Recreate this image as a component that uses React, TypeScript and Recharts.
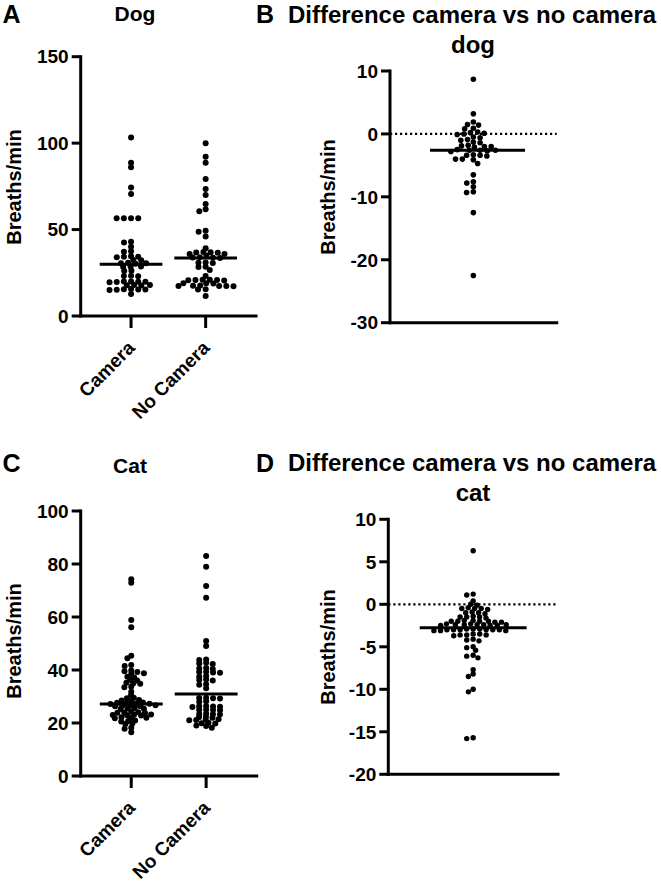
import React from 'react';
import { ScatterChart, Scatter, XAxis, YAxis, ReferenceLine } from 'recharts';

const FONT = '"Liberation Sans", Arial, Helvetica, sans-serif';

const groupCategories = ['Camera', 'No Camera'];

const dogCamera = [103.3, 88.7, 86.0, 74.4, 70.6, 56.5, 56.5, 56.5, 56.5, 43.0, 42.5, 40.1, 37.2, 37.5, 34.3, 34.0, 34.6, 34.3, 32.4, 32.2, 30.5, 30.2, 30.8, 30.5, 28.5, 28.3, 28.7, 26.2, 26.0, 23.1, 23.3, 23.0, 19.8, 19.6, 20.0, 19.8, 19.5, 19.9, 17.9, 17.7, 18.0, 17.8, 15.4, 15.2, 15.5, 15.3, 15.6, 15.1, 12.7];
const dogNoCamera = [99.9, 92.1, 88.7, 79.2, 73.5, 70.0, 64.8, 61.7, 60.6, 49.3, 48.8, 46.0, 39.2, 36.8, 36.9, 37.0, 36.6, 35.9, 35.8, 34.9, 33.9, 34.0, 33.8, 33.6, 30.8, 30.9, 30.6, 28.5, 28.3, 26.6, 23.1, 20.8, 20.9, 20.7, 21.0, 20.6, 20.8, 18.9, 19.0, 18.8, 17.4, 17.3, 17.5, 17.2, 17.6, 17.4, 15.4, 15.5, 11.6];
const dogDifference = [8.7, 3.2, 1.9, 1.4, 1.5, 0.9, 0.8, 0.1, 0.0, 0.2, -0.1, 0.3, -0.5, -0.6, -0.9, -1.0, -1.4, -1.3, -1.9, -2.0, -1.8, -2.1, -2.0, -2.6, -2.5, -2.7, -2.6, -2.8, -2.6, -3.4, -3.3, -3.5, -3.4, -4.0, -4.1, -4.0, -4.7, -6.5, -7.6, -7.8, -8.4, -9.2, -9.3, -12.5, -22.5];
const catCamera = [74.2, 72.9, 58.9, 56.1, 45.4, 44.4, 41.9, 41.5, 39.5, 39.2, 39.8, 38.8, 38.5, 37.5, 37.2, 36.2, 36.0, 35.0, 34.8, 35.2, 33.7, 33.5, 31.8, 30.6, 29.5, 29.3, 28.5, 28.3, 28.7, 27.6, 27.4, 27.5, 27.3, 27.7, 27.2, 26.5, 26.3, 26.6, 26.4, 26.7, 25.5, 25.3, 25.6, 25.4, 24.2, 24.0, 23.8, 24.1, 23.9, 23.0, 22.8, 23.2, 22.9, 23.1, 22.0, 21.8, 22.2, 21.9, 20.9, 20.6, 20.8, 19.8, 19.6, 18.2, 17.8, 16.5];
const catNoCamera = [83.0, 79.0, 71.7, 67.3, 50.9, 49.1, 44.0, 43.8, 42.5, 42.7, 42.3, 40.6, 40.4, 40.8, 39.1, 39.0, 39.3, 39.2, 37.7, 37.5, 36.2, 36.0, 36.4, 34.6, 34.4, 33.1, 29.3, 29.5, 29.2, 29.4, 28.0, 28.2, 26.2, 26.0, 26.4, 26.3, 26.1, 24.9, 25.1, 24.8, 25.0, 23.4, 23.2, 23.6, 23.3, 22.2, 22.0, 22.4, 21.2, 21.0, 21.4, 21.1, 19.9, 20.1, 19.8, 18.9, 19.1, 18.2];
const catDifference = [6.3, 1.2, 1.1, 0.4, 0.0, -0.1, -0.5, -0.4, -0.6, -0.5, -0.5, -1.0, -0.9, -1.1, -1.0, -1.5, -1.4, -1.6, -1.5, -1.5, -2.0, -1.9, -2.1, -2.0, -2.0, -1.9, -2.1, -2.0, -2.4, -2.5, -2.3, -2.4, -2.5, -2.4, -2.3, -2.4, -2.5, -2.4, -3.0, -3.1, -2.9, -3.0, -3.1, -3.0, -2.9, -3.0, -3.1, -3.0, -2.9, -3.0, -3.6, -3.5, -3.7, -3.6, -3.5, -3.6, -4.2, -4.3, -4.1, -5.0, -5.1, -5.4, -6.0, -6.1, -6.3, -7.7, -8.2, -8.5, -10.0, -10.3, -15.8, -15.7];

const dogMedians = [29.9, 33.5];
const dogDiffMedian = [-2.6];
const catMedians = [27.2, 30.9];
const catDiffMedian = [-2.75];

const dogTicks = [0, 50, 100, 150];
const dogDiffTicks = [-30, -20, -10, 0, 10];
const catTicks = [0, 20, 40, 60, 80, 100];
const catDiffTicks = [-20, -15, -10, -5, 0, 5, 10];

// Beeswarm layout: horizontal offsets (px) computed from the values.
// k > 1 lets neighbouring rows stack in the same column (GraphPad-like packing).
function swarm(values: number[], pxPerUnit: number, d: number, k: number): number[] {
  const idx = values.map((_, i) => i).sort((a, b) => values[b] - values[a]);
  const placed: { x: number; y: number }[] = [];
  const out: number[] = new Array(values.length).fill(0);
  for (const i of idx) {
    const y = values[i] * pxPerUnit;
    const near = placed.filter((p) => Math.abs(p.y - y) * k < d);
    const cands = [0];
    for (const p of near) {
      const dyk = (p.y - y) * k;
      const dx = Math.sqrt(d * d - dyk * dyk);
      cands.push(p.x + dx, p.x - dx);
    }
    const bal = near.reduce((s, p) => s + p.x, 0);
    const sgn = bal > 0.01 ? 1 : bal < -0.01 ? -1 : 1;
    cands.sort((a, b) => {
      const da = Math.abs(a), db = Math.abs(b);
      if (Math.abs(da - db) < 0.6) return a * sgn - b * sgn;
      return da - db;
    });
    let chosen = 0;
    for (const c of cands) {
      if (near.every((p) => (p.x - c) * (p.x - c) + ((p.y - y) * k) * ((p.y - y) * k) >= d * d - 0.01)) {
        chosen = c;
        break;
      }
    }
    placed.push({ x: chosen, y });
    out[i] = chosen;
  }
  return out;
}

const CategoryTick = (props: any) => {
  const { x, y, payload } = props;
  const label = groupCategories[Math.round(payload.value) - 1];
  const ax = x + 5;
  const ay = y + 19;
  return (
    <text x={ax} y={ay} textAnchor="end" transform={`rotate(-45, ${ax}, ${ay})`} fontSize={19} fontWeight={700} fontFamily={FONT} fill="#000">
      {label}
    </text>
  );
};

type PanelProps = {
  left: number;
  top: number;
  width: number;
  height: number;
  margin: { top: number; right: number; bottom: number; left: number };
  yAxisWidth: number;
  xAxisHeight: number;
  yDomain: [number, number];
  yTicks: number[];
  xDomain: [number, number];
  groups: number[][];
  medians: number[];
  medianHalf: [number, number];
  showCategories: boolean;
  zeroLine: boolean;
  dotR: number;
  spacing: number;
  stack: number;
};

const Panel = (p: PanelProps) => {
  const innerW = p.width - p.margin.left - p.margin.right - p.yAxisWidth;
  const innerH = p.height - p.margin.top - p.margin.bottom - p.xAxisHeight;
  const pxY = innerH / (p.yDomain[1] - p.yDomain[0]);
  const pxX = innerW / (p.xDomain[1] - p.xDomain[0]);
  const series = p.groups.map((vals, g) => {
    const offs = swarm(vals, pxY, p.spacing, p.stack);
    return vals.map((v, i) => ({ x: g + 1 + offs[i] / pxX, y: v }));
  });
  const dot = (props: any) => <circle cx={props.cx} cy={props.cy} r={p.dotR} fill="#000" />;
  const axisStyle = { stroke: '#000', strokeWidth: 3, strokeLinecap: 'square' as const };
  return (
    <div style={{ position: 'absolute', left: p.left, top: p.top }}>
      <ScatterChart width={p.width} height={p.height} margin={p.margin} style={{ overflow: 'visible' }}>
        <XAxis
          type="number"
          dataKey="x"
          domain={p.xDomain}
          ticks={p.showCategories ? [1, 2] : []}
          interval={0}
          allowDataOverflow
          height={p.xAxisHeight}
          axisLine={axisStyle}
          tickLine={p.showCategories ? { stroke: '#000', strokeWidth: 3 } : false}
          tickSize={12}
          tick={p.showCategories ? <CategoryTick /> : false}
        />
        <YAxis
          type="number"
          dataKey="y"
          domain={p.yDomain}
          ticks={p.yTicks}
          interval={0}
          allowDataOverflow
          width={p.yAxisWidth}
          axisLine={axisStyle}
          tickLine={{ stroke: '#000', strokeWidth: 3 }}
          tickSize={9}
          tickMargin={3}
          tick={{ fill: '#000', fontSize: 19, fontWeight: 700, fontFamily: FONT }}
        />
        {p.zeroLine && (
          <ReferenceLine y={0} stroke="#000" strokeWidth={2.2} strokeDasharray="2.2 2.8" />
        )}
        {series.map((s, g) => (
          <Scatter key={g} data={s} isAnimationActive={false} shape={dot} />
        ))}
        {p.medians.map((m, g) => (
          <ReferenceLine
            key={'m' + g}
            segment={[
              { x: g + 1 - p.medianHalf[0], y: m },
              { x: g + 1 + p.medianHalf[1], y: m },
            ]}
            stroke="#000"
            strokeWidth={3}
            ifOverflow="visible"
          />
        ))}
      </ScatterChart>
    </div>
  );
};

const textStyle = (x: number, y: number, size: number): React.CSSProperties => ({
  position: 'absolute',
  left: x,
  top: y,
  transform: 'translate(-50%, -50%)',
  fontFamily: FONT,
  fontWeight: 700,
  fontSize: size,
  lineHeight: 1,
  whiteSpace: 'nowrap',
  color: '#000',
});

const yTitleStyle = (x: number, y: number): React.CSSProperties => ({
  ...textStyle(x, y, 20),
  transform: 'translate(-50%, -50%) rotate(-90deg)',
});

export default function App() {
  return (
    <div style={{ position: 'absolute', left: 0, top: 0, width: 661, height: 882, background: '#fff', overflow: 'hidden' }}>
      <Panel
        left={0}
        top={0}
        width={300}
        height={432}
        margin={{ top: 56.7, right: 44, bottom: 4, left: 0 }}
        yAxisWidth={80.7}
        xAxisHeight={112}
        yDomain={[0, 150]}
        yTicks={dogTicks}
        xDomain={[0.325, 2.675]}
        groups={[dogCamera, dogNoCamera]}
        medians={dogMedians}
        medianHalf={[0.42, 0.42]}
        showCategories
        zeroLine={false}
        dotR={3}
        spacing={7.2}
        stack={1.8}
      />
      <Panel
        left={310}
        top={0}
        width={270}
        height={360}
        margin={{ top: 71, right: 23.3, bottom: 27.3, left: 0 }}
        yAxisWidth={80}
        xAxisHeight={10}
        yDomain={[-30, 10]}
        yTicks={dogDiffTicks}
        xDomain={[0, 2]}
        groups={[dogDifference]}
        medians={dogDiffMedian}
        medianHalf={[0.52, 0.62]}
        showCategories={false}
        zeroLine
        dotR={2.8}
        spacing={6.8}
        stack={1.4}
      />
      <Panel
        left={0}
        top={440}
        width={300}
        height={442}
        margin={{ top: 71, right: 43.3, bottom: 4, left: 0 }}
        yAxisWidth={80.7}
        xAxisHeight={102}
        yDomain={[0, 100]}
        yTicks={catTicks}
        xDomain={[0.325, 2.675]}
        groups={[catCamera, catNoCamera]}
        medians={catMedians}
        medianHalf={[0.42, 0.42]}
        showCategories
        zeroLine={false}
        dotR={3}
        spacing={7.0}
        stack={2.2}
      />
      <Panel
        left={310}
        top={440}
        width={270}
        height={360}
        margin={{ top: 79.3, right: 22, bottom: 15.7, left: 0 }}
        yAxisWidth={78.3}
        xAxisHeight={10}
        yDomain={[-20, 10]}
        yTicks={catDiffTicks}
        xDomain={[0, 2]}
        groups={[catDifference]}
        medians={catDiffMedian}
        medianHalf={[0.63, 0.63]}
        showCategories={false}
        zeroLine
        dotR={2.7}
        spacing={6.6}
        stack={1.8}
      />

      <div style={textStyle(11.5, 13.5, 25)}>A</div>
      <div style={textStyle(135, 13, 21)}>Dog</div>
      <div style={textStyle(265, 13.5, 25)}>B</div>
      <div style={textStyle(472, 15, 24)}>Difference camera vs no camera</div>
      <div style={textStyle(473, 45, 24)}>dog</div>

      <div style={textStyle(11.5, 463, 25)}>C</div>
      <div style={textStyle(130, 465, 21)}>Cat</div>
      <div style={textStyle(265, 463, 25)}>D</div>
      <div style={textStyle(472, 463, 24)}>Difference camera vs no camera</div>
      <div style={textStyle(473, 493, 24)}>cat</div>

      <div style={yTitleStyle(14, 187)}>Breaths/min</div>
      <div style={yTitleStyle(328, 197)}>Breaths/min</div>
      <div style={yTitleStyle(14, 641)}>Breaths/min</div>
      <div style={yTitleStyle(328, 647)}>Breaths/min</div>
    </div>
  );
}
